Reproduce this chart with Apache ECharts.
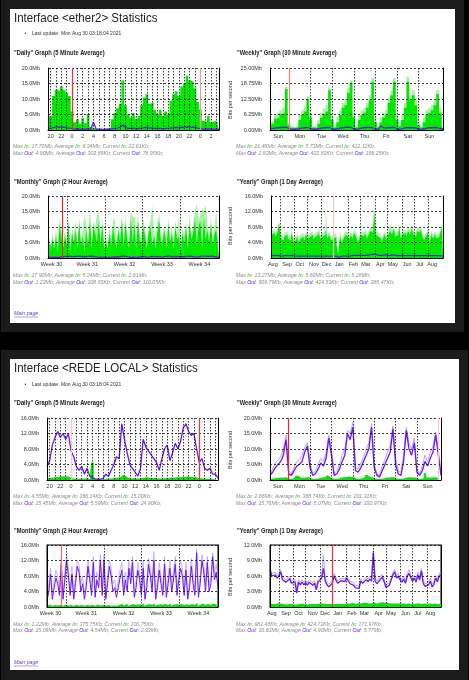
<!DOCTYPE html>
<html><head><meta charset="utf-8">
<script src="https://cdn.jsdelivr.net/npm/echarts@6/dist/echarts.min.js"></script>
<style>html,body{margin:0;padding:0;background:#000;}#c{width:469px;height:680px;}</style>
</head><body><div id="c"></div>
<script>
// ---------------- tick labels ----------------
const dailyTicks = ['20','22','0','2','4','6','8','10','12','14','16','18','20','22','0','2'];
const weeklyTicks = ['Sun','Mon','Tue','Wed','Thu','Fri','Sat','Sun'];
const monthlyTicks = ['Week 30','Week 31','Week 32','Week 33','Week 34'];
const yearlyTicks = ['Aug','Sep','Oct','Nov','Dec','Jan','Feb','Mar','Apr','May','Jun','Jul','Aug'];

const p1DailyY = ['0.0Mb','5.0Mb','10.0Mb','15.0Mb','20.0Mb'];
const p1WeeklyY = ['0.00Mb','6.25Mb','12.50Mb','18.75Mb','25.00Mb'];
const p1MonthlyY = ['0.0Mb','5.0Mb','10.0Mb','15.0Mb','20.0Mb'];
const p1YearlyY = ['0.0Mb','4.0Mb','8.0Mb','12.0Mb','16.0Mb'];
const p2DailyY = ['0.0Mb','4.0Mb','8.0Mb','12.0Mb','16.0Mb'];
const p2WeeklyY = ['0.0Mb','5.0Mb','10.0Mb','15.0Mb','20.0Mb'];
const p2MonthlyY = ['0.0Mb','4.0Mb','8.0Mb','12.0Mb','16.0Mb'];
const p2YearlyY = ['0.0Mb','3.0Mb','6.0Mb','9.0Mb','12.0Mb'];

// ---------------- series values (Mb/s) ----------------
const p1DailyIn = [3.2,4.5,11,13,12.5,14,13,12,11,6,
2.5,3.5,2.0,3.8,2.2,5.2,1.0,0.6,0.5,0.5,
0.4,0.5,0.6,0.8,3.5,5.5,7,8.5,16,8,
5,4,5.5,3.5,4.5,8,10.5,11.5,8.5,9,
6.5,5,6.5,4.5,6,5,9.5,11.5,12.5,11,
14,15,17.5,16,15.5,13.5,9,6.5,3,2.5,
4.5,2.5,3,2.5,1.5];
const p1DailyOut = [0.5,0.6,0.8,0.9,1.0,0.8,0.9,0.7,0.6,0.5,
0.3,0.4,0.3,0.3,0.3,0.4,0.2,2.6,0.3,0.2,
0.2,0.2,0.2,0.2,0.4,0.5,0.6,0.9,1.6,0.8,
0.5,0.5,0.6,0.4,0.5,0.6,0.7,0.8,0.6,0.6,
0.5,0.5,0.5,0.4,0.5,0.5,0.6,0.7,0.8,0.7,
0.8,0.9,1.0,0.9,0.9,0.8,0.6,0.5,0.3,0.3,
0.4,0.3,0.3,0.3,0.2];

const p1WeeklyIn = [1.0,2.5,4.5,5,6.5,7,16.5,2,1.0,0.8,
1.2,4,6,7.5,12.5,5,1.0,0.8,2.5,5,
6.5,7.5,16,4,1.0,3,6,9,10,15,
19,5,1.0,4,6,7,9,12,19.5,3,
1.0,3,5,6,11,14,19.5,4,1.5,4,
9,19.5,12,14,10,2,1.0,3,6,7,
8,10,14.5,7,2];
const p1WeeklyInMax = [1.5,3.5,6,7,8,9,17.5,3,1.5,1.2,
2,6,8,9.5,13.5,7,1.5,1.2,4,7,
8.5,10,17,6,1.5,5,8,11,12.5,17,
20,7,1.5,6,8,9,11,14,21,5,
1.5,5,7,8,13,16,21,6,2,6,
11,21.5,14,16,12,3,1.5,5,8,9,
10,12,16,9,3];
const p1WeeklyOut = [0.5,0.6,0.8,0.9,1.0,1.0,1.1,0.6,0.4,0.3,
0.3,0.6,0.8,0.9,1.0,0.5,0.3,0.3,0.5,0.8,
0.9,1.0,1.0,0.5,0.3,0.5,0.8,0.9,1.1,1.2,
1.0,0.5,0.3,0.6,0.8,0.9,1.0,1.0,0.9,0.4,
0.3,1.6,0.9,0.8,0.9,1.0,1.0,0.5,0.3,0.6,
0.9,1.0,0.9,0.9,0.8,0.4,0.3,0.5,0.8,0.9,
0.9,1.0,0.9,0.6,0.4];

const p1MonthlyIn = [4,4.5,2,6,3,7,2,11,6.5,3,
7,4,11,2,8,5,9,3,11.5,4,
7,2,9,4,12,3,10,8,5,12,
4,11,3,5,3,8,4,10,6,3,
9,5,12,4,11,6,3,13,5,11,
3,12,6,4,10,7,3,8,10,4,
7,3,9,12,4,6,9,3,11,5,
8,3,10,6,7,2,8,5,10,3,
11,6,8,13,4,10,12,3,13,6,
9,5,11,4,8,9,3];
const p1MonthlyInMax = [6,7,4,8,5,9,4,13,9,5,
9,6,13,4,10,7,12,5,13,6,
9,14,11,6,17,5,12,10,14,15.7,
6,13,5,7,5,10,6,12,13,5,
11,7,14,6,13,8,5,15,13.4,13,
5,14,8,6,13,9,5,10,12,17,
9,5,12,14,6,8,11,5,13,7,
10,5,12,8,14,4,10,7,12,5,
14,8,10,15,17.6,12,14,16,15,17,
11,7,13,6,10,15,5];
const p1MonthlyOut = [0.3,0.4,0.2,0.5,0.3,0.4,0.2,0.6,0.4,0.3,
0.5,0.3,0.6,0.2,0.4,0.3,0.5,0.2,0.6,0.3,
0.4,0.2,0.5,0.3,0.6,0.2,0.5,0.4,0.3,0.6,
0.3,0.5,0.2,0.3,0.2,0.4,0.3,0.5,0.4,0.2,
0.4,0.3,0.6,0.3,0.5,0.4,0.2,0.7,0.3,0.5,
0.2,0.6,0.4,0.3,0.5,0.4,0.2,0.4,0.5,0.3,
0.4,0.2,0.5,0.6,0.3,0.4,0.5,0.2,0.6,0.3,
0.4,0.2,0.5,0.4,0.4,0.2,0.4,0.3,0.5,0.2,
0.6,0.4,0.4,0.7,0.3,0.5,0.6,0.2,0.6,0.4,
0.5,0.3,0.6,0.3,0.4,0.5,0.2];

const p1YearlyIn = [7.5,6,6.5,5.5,6.5,9,5,4.5,5.5,6,
5,4.5,6.5,4,4.5,5.5,4,5,5.5,4.5,
6,5,5.5,6,5,5.5,6,7,5,5.5,
6,7.5,5,6,4.5,5,5.5,3.5,1.0,5.5,
4,5,6,5.5,4.5,6,5,6.5,5.5,4,
5,6,5.5,6.5,5,6,7,6.5,12.5,6,
5.5,5,4,5,6,4.5,6,7,6,7.5,
5.5,6,8,5,6,6.5,5.5,7,6,7.5,
6,5.5,7,6.5,7.5,5.5,4.5,5.5,6.5,4,
6,5,6,5,5.5,6.5,8];
const p1YearlyInMax = [8.5,7,7.5,6.5,7.5,9.5,6,5.5,6.5,7,
6,5.5,7.5,5,5.5,6.5,5,6,6.5,5.5,
7,6,6.5,7,6,6.5,7,8,6,6.5,
7,13.3,6,7,5.5,6,6.5,4.5,1.5,6.5,
5,6,7,6.5,5.5,7,6,7.5,6.5,5,
6,7,6.5,7.5,6,7,8,7.5,13.5,7,
6.5,6,5,6,7,5.5,7,8.5,7,8.5,
6.5,7,9,6,7,7.5,6.5,8,7,8.5,
7,6.5,8,7.5,8.5,6.5,5.5,6.5,7.5,5,
7,6,7,6,6.5,7.5,8.5];
const p1YearlyOut = [0.6,0.5,0.6,0.5,0.7,0.8,0.5,0.5,0.6,0.5,
0.6,0.5,0.6,0.4,0.5,0.6,0.5,0.9,0.5,0.6,
0.5,0.6,0.5,0.6,0.5,0.6,0.5,0.7,0.5,0.6,
0.5,0.6,0.5,0.6,0.5,0.4,0.5,0.4,0.2,0.5,
0.5,0.6,0.5,0.6,0.5,0.6,0.7,0.6,0.7,0.6,
0.7,0.8,0.7,0.8,0.7,0.8,0.9,0.8,1.0,0.8,
0.7,0.8,0.7,0.6,0.8,0.7,0.6,0.7,0.8,0.7,
0.6,0.7,0.6,0.7,0.6,0.7,0.6,0.7,0.6,0.7,
0.6,0.7,0.6,0.7,0.6,0.5,0.6,0.5,0.6,0.5,
0.6,0.5,0.6,0.5,0.6,0.5,0.5];

const p2DailyIn = [0.4,0.5,0.6,0.7,0.8,0.9,1.0,0.9,1.0,0.5,
0.3,0.3,0.3,0.4,0.3,0.5,0.2,4.5,0.3,0.2,
0.2,0.2,0.3,0.3,0.4,0.5,0.6,0.8,1.3,1.0,
0.6,0.4,0.5,0.4,0.4,0.5,0.6,0.7,0.6,0.5,
0.5,0.4,0.4,0.4,0.5,0.5,0.6,0.6,0.7,0.7,
0.8,0.8,0.9,0.8,0.8,0.7,0.6,0.5,0.3,0.3,
0.3,0.3,0.2,0.2,0.2];
const p2DailyOut = [3.5,5,9,11,12.5,11,12,10.5,12,7.5,
6,3.5,2.5,3.5,1.5,3,1.0,0.6,0.3,0.2,
0.2,0.4,1.5,1.0,2.5,4,6,5.5,14.5,10.5,
7,4,3,2,1,3,10.5,8.5,7.5,6.5,
5.5,4.5,2.5,5.5,8,9,5,7,9.5,8,
10,13.5,14.5,12.5,11.5,12,8,4.5,5.5,3,
2.5,3,1.5,1.5,0.5];

const p2WeeklyIn = [0.4,0.5,0.6,0.7,0.8,0.8,0.9,0.5,0.3,0.5,
1.4,0.8,0.7,0.8,0.9,0.5,0.3,0.4,0.6,0.8,
0.9,1.5,1.0,0.5,0.3,0.4,0.7,0.9,1.0,1.1,
1.0,0.9,0.4,0.3,0.6,0.9,1.6,1.0,0.9,0.4,
0.3,0.3,0.5,0.7,0.8,0.9,0.9,0.5,0.3,0.4,
0.6,0.8,0.9,0.8,0.8,0.4,0.3,0.5,2.2,0.8,
0.8,0.9,0.8,0.6,0.4];
const p2WeeklyOut = [1.5,2.5,4,5,6,8,13,2,1.5,3,
4.5,5,6,9,11,4,1.5,2,3.5,5.5,
4.5,7,13.5,8,1.5,2,3.5,6,8,15,
13,17,3,2.5,4,6,8,10,17,4,
1.5,1.0,3,5,7,9,16.5,5,2,1.5,
6,16,10,8,12,2.5,1.5,3,6,4.5,
7,9,14.5,8,1.5];
const p2WeeklyOutMax = [2,3.5,5.5,6.5,7.5,10,14.5,3,2,4,
6,6.5,8,10.5,12,5.5,2,3,5,7,
6,9,14.5,10,2,3,5,8,10,16,
15,18.5,4,3.5,5.5,7.5,10,12,18,5.5,
2,1.5,4.5,6.5,9,11,17.5,7,3,2.5,
8,17,12,10,13.5,3.5,2,4.5,8,6,
9,11,15.5,10,2.5];

const p2MonthlyIn = [0.4,0.6,0.8,0.3,0.5,0.7,0.4,0.6,0.9,0.3,
0.6,0.8,0.4,0.5,0.7,0.3,0.6,0.9,0.4,0.5,
0.8,0.3,0.5,0.7,0.4,0.6,0.9,0.3,0.6,1.0,
0.4,0.5,0.8,0.3,0.5,0.7,0.3,0.4,0.6,0.3,
0.5,0.7,0.8,0.4,0.6,0.9,0.3,0.5,0.8,0.4,
0.5,0.7,0.3,0.6,0.9,0.3,0.5,0.8,0.4,0.6,
0.9,0.3,0.5,0.7,0.4,0.6,0.8,0.3,0.5,0.9,
0.3,0.5,0.8,0.4,0.6,0.8,0.3,0.5,0.7,0.3,
0.5,0.8,0.4,0.6,1.1,0.3,0.5,0.9,0.4,0.6,
0.8,0.4,0.5,0.9,0.4,0.7,0.5];
const p2MonthlyOut = [1.5,4,8.5,2,5,7.5,6,3,11,2,
7,12,8,3,8.5,2,6,10.5,9,4,
6,2,5,10.5,7,3,11.5,2.5,7,5,
12,3,12,2,6,10.5,8,4,5,2.5,
5,7.5,9.5,3,7,4,10,6,11.5,2.5,
5,9.5,7,3,10,2,5,11,8,4,
12,2,5,9.5,6,3,11,2.5,6,10,
4,7,11,3,7,10,8,3,9.5,2,
5,10.5,6,3,14,2.5,6,12,9,4,
11.5,4,6,13,7,9,5];
const p2MonthlyOutMax = [2.5,6,10,3.5,7,9.5,8,4.5,12.5,3.5,
9,13.5,10,4.5,10.5,3.5,8,12,11,6,
8,3.5,7,12,9,4.5,13,4,9,7,
13.5,4.5,13.5,3.5,8,12,10,6,7,4,
7,9.5,11.5,4.5,9,6,12,8,13,4,
7,11.5,9,4.5,12,3.5,7,12.5,10,6,
14.3,3.5,7,11.5,8,4.5,13,4,8,12,
6,9,13,4.5,9,12,10,4.5,11.5,3.5,
7,12.5,8,4.5,15,4,8,13.5,11,6,
13,5.5,8,14,9,11,7];

const p2YearlyIn = [0.7,0.6,0.7,0.6,0.7,0.6,0.7,0.6,0.6,0.5,
0.6,0.7,0.6,0.5,0.6,0.5,0.6,0.6,0.7,0.6,
0.6,0.5,0.6,0.7,0.6,0.6,0.5,0.6,0.7,0.6,
0.7,0.6,0.5,0.6,0.6,0.5,0.6,0.6,0.7,0.6,
0.6,0.7,0.6,0.7,0.6,0.7,0.8,0.7,0.6,0.7,
0.8,0.7,0.8,0.7,0.8,0.7,0.8,0.7,0.8,0.7,
0.7,0.8,0.7,0.9,0.8,0.7,0.8,0.7,0.8,0.7,
0.7,0.8,0.7,0.7,0.6,0.7,0.6,0.7,0.7,0.6,
0.7,0.6,0.7,0.6,0.7,0.6,0.6,0.7,0.6,0.6,
0.7,0.6,0.6,0.7,0.6,0.6,0.7];
const p2YearlyOut = [7.2,6.0,5.8,6.2,5.6,6.0,6.8,5.3,5.6,4.8,
5.0,5.5,4.6,4.3,4.8,2.7,4.8,4.3,4.8,4.3,
4.7,4.2,4.8,4.5,4.2,4.6,3.3,4.8,5.2,5.6,
7.5,5.0,4.3,3.9,4.2,4.6,6.0,5.2,4.6,4.8,
5.1,5.3,4.9,5.6,5.0,4.5,4.8,4.2,3.7,4.0,
3.6,5.0,4.6,4.8,5.3,4.9,5.4,5.0,10.5,5.0,
4.5,4.9,4.7,5.8,5.0,3.8,3.5,4.2,5.2,6.2,
6.8,5.6,6.0,5.3,4.8,5.4,4.6,5.9,6.5,5.7,
5.0,5.6,4.8,6.2,5.2,7.0,4.6,4.0,3.8,4.3,
5.0,3.9,4.4,5.6,4.9,6.0,6.1];
const p2YearlyOutMax = [7.6,6.5,6.3,6.7,6.1,6.5,7.2,5.8,6.1,5.3,
5.5,6.0,5.1,4.8,5.3,3.5,5.3,4.8,5.3,4.8,
5.2,4.7,5.3,5.0,4.7,5.1,4.0,5.3,5.7,6.1,
10.0,5.5,4.8,4.4,4.7,5.1,6.5,5.7,5.1,5.3,
5.6,5.8,5.4,6.1,5.5,5.0,5.3,4.7,4.2,4.5,
4.1,5.5,5.1,5.3,5.8,5.4,5.9,5.5,10.9,5.5,
5.0,5.4,5.2,6.3,5.5,4.3,4.0,4.7,5.7,6.7,
7.3,6.1,6.5,5.8,5.3,5.9,5.1,6.4,7.2,6.2,
5.5,6.1,5.3,6.7,5.7,7.5,5.1,4.5,4.3,4.8,
5.5,4.4,4.9,6.1,5.4,6.5,6.6];

// ---------------- summary texts ----------------
const p1Stats = {
  daily:   [['17.70Mb','6.34Mb','22.61Kb'], ['4.90Mb','303.89Kb','78.95Kb']],
  weekly:  [['21.48Mb','5.73Mb','412.12Kb'], ['2.63Mb','402.83Kb','196.25Kb']],
  monthly: [['17.90Mb','5.24Mb','2.61Mb'], ['1.23Mb','308.83Kb','110.05Kb']],
  yearly:  [['13.27Mb','5.60Mb','5.28Mb'], ['909.79Kb','424.53Kb','388.47Kb']]
};
const p2Stats = {
  daily:   [['4.55Mb','366.14Kb','15.00Kb'], ['15.45Mb','5.59Mb','24.90Kb']],
  weekly:  [['2.66Mb','388.74Kb','201.31Kb'], ['15.76Mb','5.07Mb','330.97Kb']],
  monthly: [['1.22Mb','375.75Kb','100.75Kb'], ['15.09Mb','4.54Mb','2.33Mb']],
  yearly:  [['981.48Kb','424.72Kb','171.97Kb'], ['10.63Mb','4.90Mb','5.77Mb']]
};

// ---------------- axis layout (sample indices) ----------------
const range = (a, b, s) => { const r = []; for (let v = a; v <= b; v += s) r.push(v); return r; };
const dailyLabelIdx = range(1, 61, 4);
const dailyLineIdx = range(1, 63, 2);
const weeklyLabelIdx = range(3, 59, 8);
const weeklyLineIdx = range(7, 55, 8);
const monthlyLabelIdx = [2, 22, 43, 64, 85];
const monthlyLineIdx = [11, 32, 53, 74];
const yearlyLabelIdx = [1, 9, 16, 24, 31, 38, 46, 53, 61, 68, 76, 83, 90];
const yearlyLineIdx = [5, 13, 20, 28, 43, 50, 58, 65, 73, 80, 88];

const GREEN = '#00ea00', LGREEN = '#a6f3a6', PURPLE = '#6c16f2', LPURPLE = '#b9a2ff';

const graphs = [
  {l:48, t:68, w:171, h:62, ticks:dailyTicks, li:dailyLabelIdx, gl:dailyLineIdx, yMax:20, yl:p1DailyY,
   inAvg:p1DailyIn, out:p1DailyOut, red:[[9,'#ff2a2a'],[57,'#f19a9a']]},
  {l:270, t:68, w:173, h:62, ticks:weeklyTicks, li:weeklyLabelIdx, gl:weeklyLineIdx, yMax:25, yl:p1WeeklyY,
   inAvg:p1WeeklyIn, inMax:p1WeeklyInMax, out:p1WeeklyOut, red:[[7,'#ec8080']]},
  {l:48, t:196, w:171, h:62, ticks:monthlyTicks, li:monthlyLabelIdx, gl:monthlyLineIdx, yMax:20, yl:p1MonthlyY,
   inAvg:p1MonthlyIn, inMax:p1MonthlyInMax, out:p1MonthlyOut, red:[[8,'#ff2020']]},
  {l:271, t:196, w:172, h:62, ticks:yearlyTicks, li:yearlyLabelIdx, gl:yearlyLineIdx, yMax:16, yl:p1YearlyY,
   inAvg:p1YearlyIn, inMax:p1YearlyInMax, out:p1YearlyOut, red:[[35,'#f6c4c4']]},
  {l:47, t:418, w:171, h:62, ticks:dailyTicks, li:dailyLabelIdx, gl:dailyLineIdx, yMax:16, yl:p2DailyY,
   inAvg:p2DailyIn, out:p2DailyOut, red:[[9,'#f7c8c8'],[57,'#ff3030']]},
  {l:270, t:418, w:171, h:62, ticks:weeklyTicks, li:weeklyLabelIdx, gl:weeklyLineIdx, yMax:20, yl:p2WeeklyY,
   inAvg:p2WeeklyIn, out:p2WeeklyOut, outMax:p2WeeklyOutMax, red:[[7,'#ff2020'],[63,'#f6caca']]},
  {l:47, t:545, w:171, h:62, ticks:monthlyTicks, li:monthlyLabelIdx, gl:monthlyLineIdx, yMax:16, yl:p2MonthlyY,
   inAvg:p2MonthlyIn, out:p2MonthlyOut, outMax:p2MonthlyOutMax, red:[[8,'#ff6a6a']], frame:true, thin:true},
  {l:270, t:545, w:171, h:62, ticks:yearlyTicks, li:yearlyLabelIdx, gl:yearlyLineIdx, yMax:12, yl:p2YearlyY,
   inAvg:p2YearlyIn, out:p2YearlyOut, outMax:p2YearlyOutMax, red:[[35,'#ff3030']], frame:true}
];

const FONT = '"Liberation Sans", Arial, sans-serif';
const option = {animation:false, backgroundColor:'#000', grid:[], xAxis:[], yAxis:[], series:[], graphic:{elements:[]}};

graphs.forEach((g, gi) => {
  const cats = g.inAvg.map((_, i) => String(i));
  const labelMap = new Map(g.li.map((p, k) => [p, g.ticks[k]]));
  const lineSet = new Set(g.gl);
  const step = g.yMax / 4;
  option.grid.push({left:g.l, top:g.t, width:g.w, height:g.h, show:!!g.frame, borderColor:'#000', borderWidth:1, backgroundColor:'transparent'});
  option.xAxis.push({type:'category', gridIndex:gi, data:cats, boundaryGap:false, z:3,
    axisLine:{show:true, onZero:false, lineStyle:{color:'#000', width:1}}, axisTick:{show:false},
    axisLabel:{show:true, interval:(i) => labelMap.has(i), formatter:(v) => labelMap.get(+v) || '',
      fontSize:5.5, fontFamily:FONT, color:'#333', margin:3},
    splitLine:{show:true, interval:(i) => lineSet.has(i), lineStyle:{color:'#111', width:0.8, type:[1.5,1.5]}}});
  option.yAxis.push({type:'value', gridIndex:gi, min:0, max:g.yMax, interval:step, z:3,
    axisLine:{show:true, onZero:false, lineStyle:{color:'#000', width:1}}, axisTick:{show:false},
    axisLabel:{formatter:(v) => g.yl[Math.round(v / step)], fontSize:5.5, fontFamily:FONT, color:'#333', margin:8},
    splitLine:{show:true, lineStyle:{color:'#111', width:0.8, type:[2,2]}}});
  option.yAxis.push({type:'value', gridIndex:gi, position:'right', min:0, max:g.yMax, interval:step, z:3,
    axisLine:{show:true, onZero:false, lineStyle:{color:'#000', width:1}}, axisTick:{show:false},
    axisLabel:{show:false}, splitLine:{show:false}});
  const yi = gi * 2;
  const base = {xAxisIndex:gi, yAxisIndex:yi, symbol:'none', silent:true, animation:false};
  if (g.inMax) option.series.push(Object.assign({type:'line', data:g.inMax, step:'middle',
    lineStyle:{width:0}, areaStyle:{color:LGREEN, opacity:1}, z:1}, base));
  option.series.push(Object.assign({type:'line', data:g.inAvg, step:'middle',
    lineStyle:{width:0}, areaStyle:{color:GREEN, opacity:1}, z:1}, base));
  if (g.outMax) option.series.push(Object.assign({type:'line', data:g.outMax,
    lineStyle:{width:g.thin ? 0.8 : 1, color:LPURPLE}, z:2}, base));
  option.series.push(Object.assign({type:'line', data:g.out,
    lineStyle:{width:g.thin ? 1 : 1.3, color:PURPLE}, z:2,
    markLine:{silent:true, symbol:['none','none'], label:{show:false}, animation:false,
      data:g.red.map(([idx, col]) => ({xAxis:String(idx), lineStyle:{color:col, width:1.2, type:'solid'}}))}}, base));
});

const E = option.graphic.elements;
function rect(x, y, w, h, fill) { E.push({type:'rect', shape:{x, y, width:w, height:h}, style:{fill}, z:-10, silent:true}); }
function text(x, y, str, font, fill, extra) {
  E.push(Object.assign({type:'text', x, y, z:10, silent:true,
    style:{text:str, font, fill, align:'left', verticalAlign:'middle'}}, extra || {}));
}
function statLine(x, y, word, vals) {
  const k = word === 'In' ? 'i' : 'o';
  const str = `{g|Max }{${k}|${word}}{g|: ${vals[0]}; Average }{${k}|${word}}{g|: ${vals[1]}; Current }{${k}|${word}}{g|: ${vals[2]};}`;
  const f = {fontSize:5.2, fontFamily:FONT, fontStyle:'italic'};
  E.push({type:'text', x, y, z:10, silent:true, style:{text:str, align:'left', verticalAlign:'middle',
    rich:{g:Object.assign({fill:'#8c8c8c'}, f), i:Object.assign({fill:'#19c019'}, f), o:Object.assign({fill:'#5a14e6'}, f)}}});
}

// panels
rect(1, 0, 463, 332, '#1b1b1b');
rect(10, 9, 445, 314, '#ffffff');
rect(1, 350, 467, 330, '#1b1b1b');
rect(10, 359, 449, 311, '#ffffff');

const panels = [
  {name:'ether2', y0:0, stats:p1Stats, rows:[53, 182], statY:[[147,154],[276,282.5]], bps:[100, 226], main:314},
  {name:'REDE LOCAL', y0:350.5, stats:p2Stats, rows:[403.5, 531], statY:[[496.7,504],[625,631]], bps:[450, 577], main:663}
];
const titles = [['"Daily" Graph (5 Minute Average)', '"Weekly" Graph (30 Minute Average)'],
                ['"Monthly" Graph (2 Hour Average)', '"Yearly" Graph (1 Day Average)']];
const keys = [['daily','weekly'],['monthly','yearly']];
panels.forEach(p => {
  text(14, p.y0 + 18.5, 'Interface <' + p.name + '> Statistics', '12px ' + FONT, '#222', {scaleX:0.96});
  text(24.5, p.y0 + 34, '\u2022', '5px ' + FONT, '#333');
  text(32, p.y0 + 34, 'Last update: Mon Aug 30 03:18:04 2021', '5px ' + FONT, '#333');
  [0, 1].forEach(r => {
    [0, 1].forEach(c => {
      const x = c === 0 ? 14 : 237;
      text(x, p.rows[r], titles[r][c], 'bold 6.4px ' + FONT, '#222', {scaleX:0.9});
      const st = p.stats[keys[r][c]];
      statLine(x - 1, p.statY[r][0], 'In', st[0]);
      statLine(x - 1, p.statY[r][1], 'Out', st[1]);
    });
    E.push({type:'text', x:230.5, y:p.bps[r], rotation:Math.PI / 2, z:10, silent:true,
      style:{text:'Bits per second', font:'5.5px ' + FONT, fill:'#333', align:'center', verticalAlign:'middle'}});
  });
  text(14, p.main, 'Main page', 'italic 5.2px ' + FONT, '#5b3fd0');
  E.push({type:'line', shape:{x1:14, y1:p.main + 3, x2:38, y2:p.main + 3}, style:{stroke:'#5b3fd0', lineWidth:0.5}, z:10, silent:true});
});

const chart = echarts.init(document.getElementById('c'), null, {renderer:'canvas'});
chart.setOption(option);
</script></body></html>
